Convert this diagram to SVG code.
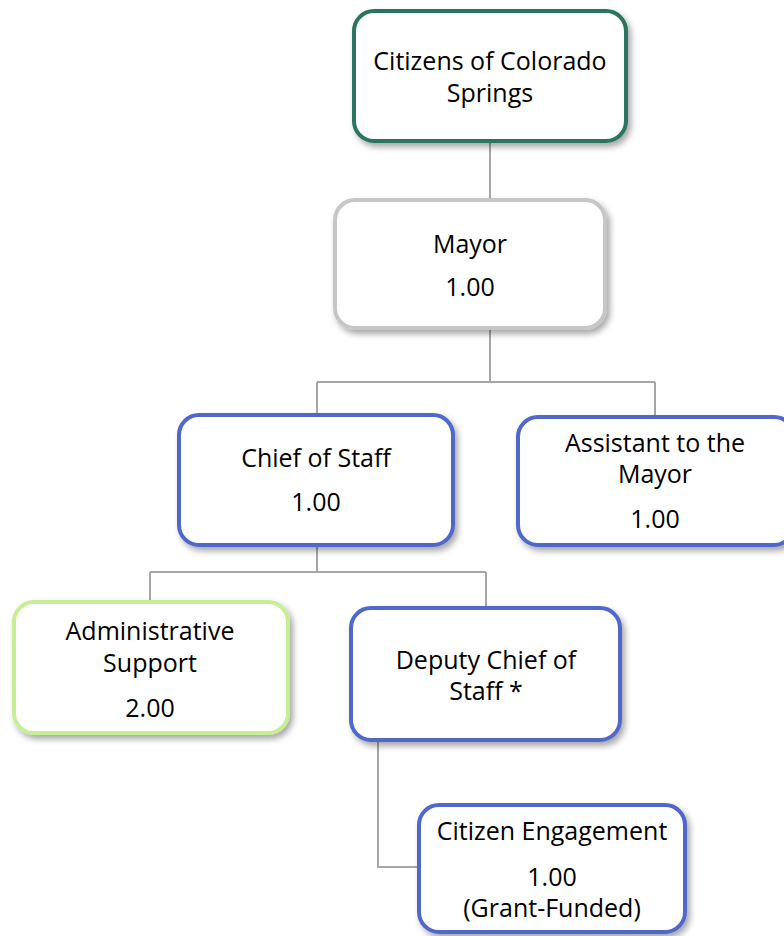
<svg xmlns="http://www.w3.org/2000/svg" width="784" height="936" viewBox="0 0 784 936">
<defs>
<filter id="sh" x="-10%" y="-10%" width="125%" height="130%">
<feDropShadow dx="3" dy="4" stdDeviation="3" flood-color="#000" flood-opacity="0.35"/>
</filter>
<style>
.box{fill:#fff;stroke-width:4;filter:url(#sh)}
.teal{stroke:#2a7561}
.gray{stroke:#c6c6c6}
.blue{stroke:#4f67c9}
.green{stroke:#c6ee94}
.t{font-family:"Open Sans","Noto Sans","DejaVu Sans",sans-serif;font-size:25px;fill:#000;text-anchor:middle}
.c{fill:none;stroke:#a6a6a6;stroke-width:2}
</style>
</defs>
<rect width="784" height="936" fill="#fff"/>
<g id="connectors">
<path class="c" d="M490 143V199"/>
<path class="c" d="M490 330V382M317 382H655M317 382V414M655 382V416"/>
<path class="c" d="M317 547V572M150 572H486M150 572V601M486 572V607"/>
<path class="c" d="M378 742V867H418"/>
</g>
<g id="citizens">
<rect class="box teal" x="354" y="11" width="272" height="130" rx="20"/>
<text class="t" x="490" y="70">Citizens of Colorado</text>
<text class="t" x="490" y="102">Springs</text>
</g>
<g id="mayor">
<rect class="box gray" x="335" y="200" width="270" height="128" rx="20"/>
<text class="t" x="470" y="253">Mayor</text>
<text class="t" x="470" y="296">1.00</text>
</g>
<g id="chief">
<rect class="box blue" x="179" y="415" width="274" height="130" rx="20"/>
<text class="t" x="316" y="467">Chief of Staff</text>
<text class="t" x="316" y="511">1.00</text>
</g>
<g id="assistant">
<rect class="box blue" x="518" y="417" width="276" height="128" rx="20"/>
<text class="t" x="655" y="452">Assistant to the</text>
<text class="t" x="655" y="483">Mayor</text>
<text class="t" x="655" y="528">1.00</text>
</g>
<g id="admin">
<rect class="box green" x="14" y="602" width="274" height="131" rx="20"/>
<text class="t" x="150" y="640">Administrative</text>
<text class="t" x="150" y="672">Support</text>
<text class="t" x="150" y="717">2.00</text>
</g>
<g id="deputy">
<rect class="box blue" x="351" y="608" width="269" height="132" rx="20"/>
<text class="t" x="486" y="669">Deputy Chief of</text>
<text class="t" x="486" y="700">Staff *</text>
</g>
<g id="engagement">
<rect class="box blue" x="419" y="805" width="266" height="127" rx="20"/>
<text class="t" x="552" y="840">Citizen Engagement</text>
<text class="t" x="552" y="886">1.00</text>
<text class="t" x="552" y="917">(Grant-Funded)</text>
</g>
</svg>
